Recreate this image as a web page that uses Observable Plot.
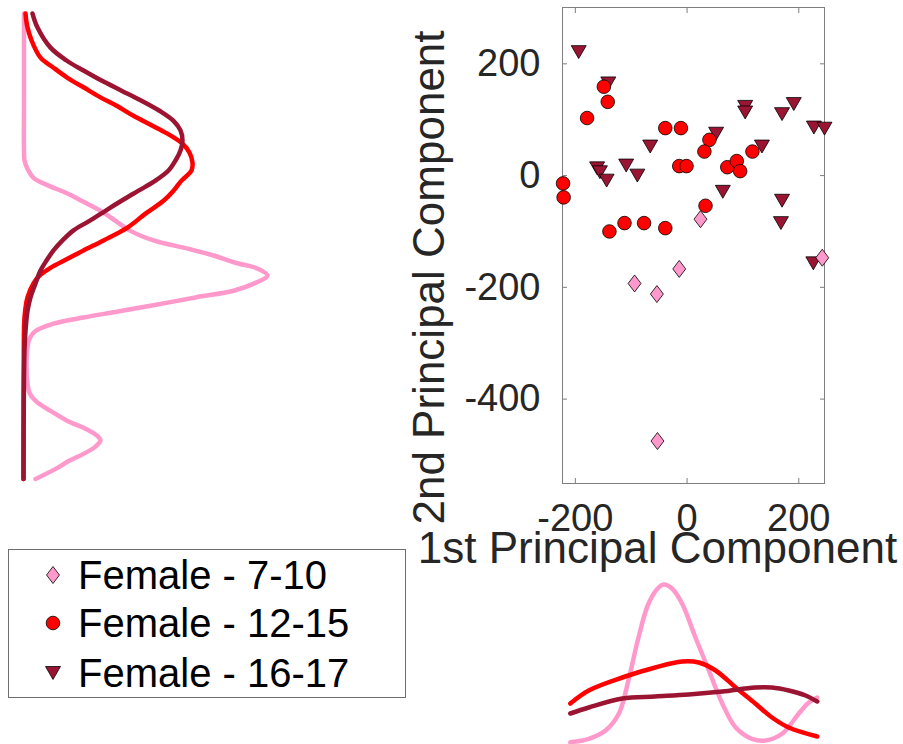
<!DOCTYPE html>
<html>
<head>
<meta charset="utf-8">
<script src="https://cdn.jsdelivr.net/npm/d3@7"></script>
<script src="https://cdn.jsdelivr.net/npm/@observablehq/plot@0.6"></script>
<style>
  html, body { margin: 0; padding: 0; background: white; }
  #wrap { position: relative; width: 903px; height: 744px; overflow: hidden; background: white; }
  .panel { position: absolute; }
</style>
</head>
<body>
<div id="wrap"></div>
<script>
// ---------- data ----------
const groups = ["Female - 7-10", "Female - 12-15", "Female - 16-17"];
const colors = ["#ff99cc", "#ff0000", "#9b1533"];

const xTicks = [-200, 0, 200];
const yTicks = [-400, -200, 0, 200];
const xLabel = "1st Principal Component";
const yLabel = "2nd Principal Component";

// scatter: 1st and 2nd principal component scores
const pc1_7_10 = [24, -94, -54, -14, 242, -53];
const pc2_7_10 = [-78, -193, -212, -167, -147, -475];

const pc1_12_15 = [-222, -221, -149, -142, -179, -39, -11, 40, 31, -14, -1, 72, 89, 95, 117, 33, -139, -112, -77, -39];
const pc2_12_15 = [-14, -39, 159, 132, 103, 85, 85, 64, 43, 17, 17, 15, 26, 8, 43, -54, -100, -85, -85, -94];

const pc1_16_17 = [-194, -141, -161, -156, -144, -109, -89, -66, 52, 104, 104, 134, 170, 191, 227, 246, 64, 170, 168, 226];
const pc2_16_17 = [221, 165, 13, 6, -9, 18, 0, 52, 75, 123, 113, 52, 110, 128, 86, 84, -29, -45, -85, -157];

// marginal density of the 2nd component (left panel)
const leftPC2_7_10 = [290, 134, 45, 27, 12, -4, -18, -32, -47, -63, -81, -98, -116, -131, -143, -156, -167, -179, -192, -206, -218, -233, -244, -254, -265, -278, -292, -308, -340, -372, -389, -403, -421, -439, -453, -466, -474, -485, -498, -510, -523, -543];
const leftDens_7_10 = [0.005, 0.005, 0.005, 0.01, 0.04, 0.10, 0.25, 0.44, 0.60, 0.77, 0.92, 1.06, 1.30, 1.65, 1.90, 2.12, 2.35, 2.44, 2.32, 2.10, 1.72, 1.27, 0.92, 0.60, 0.30, 0.12, 0.06, 0.04, 0.03, 0.04, 0.06, 0.12, 0.27, 0.44, 0.62, 0.74, 0.77, 0.72, 0.60, 0.46, 0.34, 0.12];

const leftPC2_12_15 = [290, 269, 242, 211, 193, 175, 158, 140, 124, 107, 91, 75, 57, 41, 23, 9, -9, -27, -45, -68, -93, -116, -134, -149, -165, -179, -193, -218, -254, -313, -403, -543];
const leftDens_12_15 = [0.02, 0.035, 0.08, 0.17, 0.30, 0.44, 0.60, 0.77, 0.94, 1.10, 1.27, 1.44, 1.59, 1.66, 1.69, 1.68, 1.58, 1.50, 1.40, 1.22, 1.04, 0.80, 0.60, 0.44, 0.27, 0.16, 0.10, 0.04, 0.01, 0.003, 0.001, 0];

const leftPC2_16_17 = [290, 265, 229, 206, 188, 170, 152, 134, 116, 98, 81, 63, 45, 27, 9, -9, -27, -45, -63, -81, -98, -116, -134, -152, -170, -193, -218, -242, -278, -313, -403, -543];
const leftDens_16_17 = [0.09, 0.14, 0.27, 0.43, 0.60, 0.78, 0.98, 1.18, 1.36, 1.50, 1.57, 1.59, 1.57, 1.52, 1.45, 1.32, 1.15, 0.98, 0.82, 0.66, 0.50, 0.39, 0.30, 0.23, 0.17, 0.12, 0.07, 0.04, 0.02, 0.01, 0.003, 0];

// marginal density of the 1st component (bottom panel)
const botPC1_7_10 = [-209, -176, -146, -122, -105, -87, -69, -51, -42, -27, -9, 15, 39, 63, 87, 116, 140, 170, 200, 218, 233];
const botDens_7_10 = [0.013, 0.047, 0.13, 0.30, 0.63, 1.06, 1.40, 1.56, 1.59, 1.55, 1.40, 1.06, 0.73, 0.40, 0.16, 0.047, 0.03, 0.097, 0.30, 0.41, 0.46];

const botPC1_12_15 = [-209, -176, -116, -57, -9, 21, 51, 87, 122, 152, 182, 233];
const botDens_12_15 = [0.40, 0.53, 0.66, 0.76, 0.82, 0.81, 0.73, 0.56, 0.40, 0.26, 0.16, 0.07];

const botPC1_16_17 = [-209, -176, -116, -57, 3, 63, 122, 152, 182, 212, 233];
const botDens_16_17 = [0.30, 0.36, 0.45, 0.47, 0.49, 0.52, 0.56, 0.56, 0.53, 0.48, 0.42];

// ---------- helpers ----------
const FONT = "'Liberation Sans', Arial, Helvetica, sans-serif";
const AXIS = "#7f7f7f";
const TEXT = "#262626";
const LINE_W = 4.5;
const zipPts = (a, b) => a.map((v, i) => ({pc1: v, pc2: b[i]}));
const zipDens = (p, d) => p.map((v, i) => ({pc: v, d: d[i]}));
const fmt = (d) => String(d);

const diamondSym = {draw(ctx, size) {
  const r = Math.sqrt(size / Math.PI);
  const h = r * 1.25, w = r * 0.95;
  ctx.moveTo(0, -h); ctx.lineTo(w, 0); ctx.lineTo(0, h); ctx.lineTo(-w, 0); ctx.closePath();
}};
const triDownSym = {draw(ctx, size) {
  const r = Math.sqrt(size / Math.PI);
  const w = r * 1.1, h = r * 0.95;
  ctx.moveTo(-w, -h); ctx.lineTo(w, -h); ctx.lineTo(0, h); ctx.closePath();
}};
const symbols = [diamondSym, d3.symbolCircle, triDownSym];

const wrap = document.getElementById("wrap");
function place(node, left, top) {
  const div = document.createElement("div");
  div.className = "panel";
  div.style.left = left + "px";
  div.style.top = top + "px";
  div.appendChild(node);
  wrap.appendChild(div);
}
const baseStyle = {background: "transparent", overflow: "visible", fontFamily: FONT};

// ---------- left density ----------
const leftPlot = Plot.plot({
  width: 300, height: 490,
  marginLeft: 23, marginRight: 0, marginTop: 7, marginBottom: 7,
  style: baseStyle,
  x: {domain: [0, 2.77], axis: null},
  y: {domain: [-551, 300.8], axis: null},
  marks: [
    Plot.line(zipDens(leftPC2_7_10, leftDens_7_10), {x: "d", y: "pc", stroke: colors[0], strokeWidth: LINE_W, curve: "catmull-rom"}),
    Plot.line(zipDens(leftPC2_12_15, leftDens_12_15), {x: "d", y: "pc", stroke: colors[1], strokeWidth: LINE_W, curve: "catmull-rom"}),
    Plot.line(zipDens(leftPC2_16_17, leftDens_16_17), {x: "d", y: "pc", stroke: colors[2], strokeWidth: LINE_W, curve: "catmull-rom"})
  ]
});
place(leftPlot, 0, 0);

// ---------- scatter ----------
const scatter = Plot.plot({
  width: 503, height: 600,
  marginLeft: 162, marginRight: 79, marginTop: 7, marginBottom: 117,
  style: baseStyle,
  x: {domain: [-223, 246]},
  y: {domain: [-551, 300.8]},
  marks: [
    Plot.frame({stroke: AXIS, strokeWidth: 1}),
    Plot.axisX(xTicks, {anchor: "bottom", tickSize: -5, stroke: AXIS, tickFormat: () => "", label: null}),
    Plot.axisX(xTicks, {anchor: "top", tickSize: -5, stroke: AXIS, tickFormat: () => "", label: null}),
    Plot.axisY(yTicks, {anchor: "left", tickSize: -5, stroke: AXIS, tickFormat: () => "", label: null}),
    Plot.axisY(yTicks, {anchor: "right", tickSize: -5, stroke: AXIS, tickFormat: () => "", label: null}),
    Plot.axisX(xTicks, {anchor: "bottom", tickSize: 0, tickPadding: 21, fontSize: 38, fill: TEXT, tickFormat: fmt, label: null}),
    Plot.axisY(yTicks, {anchor: "left", tickSize: 0, tickPadding: 22, fontSize: 38, fill: TEXT, tickFormat: fmt, label: null}),
    Plot.text([xLabel], {frameAnchor: "bottom", textAnchor: "middle", lineAnchor: "middle", dx: -36, dy: 65, fontSize: 44, fill: TEXT}),
    Plot.text([yLabel], {frameAnchor: "left", textAnchor: "middle", lineAnchor: "middle", dx: -133, dy: 32, rotate: -90, fontSize: 44, fill: TEXT}),
    Plot.dot(zipPts(pc1_16_17, pc2_16_17), {x: "pc1", y: "pc2", symbol: symbols[2], r: 6.8, fill: colors[2], stroke: "black", strokeWidth: 0.8}),
    Plot.dot(zipPts(pc1_12_15, pc2_12_15), {x: "pc1", y: "pc2", symbol: symbols[1], r: 6.8, fill: colors[1], stroke: "black", strokeWidth: 0.8}),
    Plot.dot(zipPts(pc1_7_10, pc2_7_10), {x: "pc1", y: "pc2", symbol: symbols[0], r: 6.8, fill: colors[0], stroke: "black", strokeWidth: 0.8})
  ]
});
place(scatter, 400, 0);

// ---------- bottom density ----------
const bottomPlot = Plot.plot({
  width: 363, height: 169,
  marginLeft: 22, marginRight: 79, marginTop: 0, marginBottom: 1,
  style: baseStyle,
  x: {domain: [-223, 246], axis: null},
  y: {domain: [0, 1.68], axis: null},
  marks: [
    Plot.line(zipDens(botPC1_7_10, botDens_7_10), {x: "pc", y: "d", stroke: colors[0], strokeWidth: LINE_W, curve: "catmull-rom"}),
    Plot.line(zipDens(botPC1_12_15, botDens_12_15), {x: "pc", y: "d", stroke: colors[1], strokeWidth: LINE_W, curve: "catmull-rom"}),
    Plot.line(zipDens(botPC1_16_17, botDens_16_17), {x: "pc", y: "d", stroke: colors[2], strokeWidth: LINE_W, curve: "catmull-rom"})
  ]
});
place(bottomPlot, 540, 575);

// ---------- legend ----------
const lw = 398, lh = 149;
const legendSvg = d3.create("svg").attr("width", lw).attr("height", lh)
  .style("font-family", FONT).style("overflow", "visible");
legendSvg.append("rect").attr("x", 0.5).attr("y", 0.5).attr("width", lw - 1).attr("height", lh - 1)
  .attr("fill", "white").attr("stroke", "#6e6e6e").attr("stroke-width", 1);
const rowY = [26, 74, 124];
groups.forEach((g, i) => {
  const sym = d3.symbol(symbols[i], Math.PI * 6.8 * 6.8);
  legendSvg.append("path").attr("d", sym())
    .attr("transform", `translate(45,${rowY[i]})`)
    .attr("fill", colors[i]).attr("stroke", "black").attr("stroke-width", 0.8);
  legendSvg.append("text").attr("x", 70).attr("y", rowY[i]).attr("dy", "0.36em")
    .attr("font-size", 40).attr("fill", "black").text(g);
});
place(legendSvg.node(), 8, 549);
</script>
</body>
</html>
